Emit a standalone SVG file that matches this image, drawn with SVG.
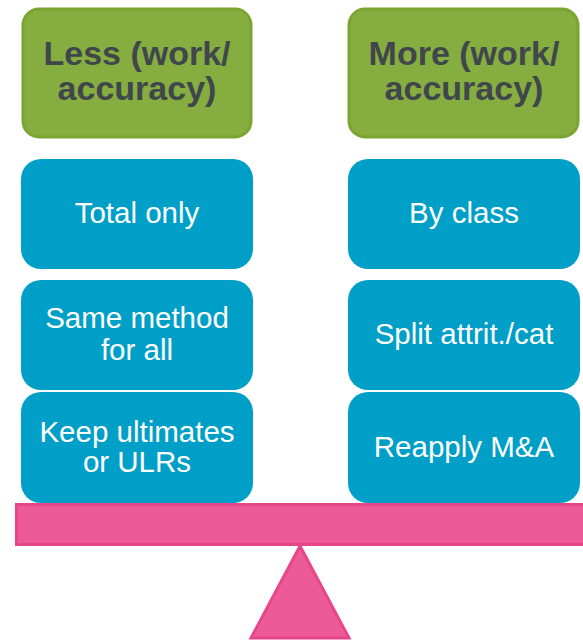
<svg xmlns="http://www.w3.org/2000/svg" width="583" height="640" viewBox="0 0 583 640">
<style>
.hdr rect{fill:#85AD3F;stroke:#79A530;stroke-width:3}
.hdr text{font-family:"Liberation Sans",Arial,sans-serif;font-weight:bold;font-size:34px;fill:#41464D;text-anchor:middle}
.itm rect{fill:#009FC8}
.itm text{font-family:"Liberation Sans",Arial,sans-serif;font-size:29.5px;fill:#FFFFFF;text-anchor:middle}
.pink{fill:#EC5B96;stroke:#E7478A;stroke-width:3}
</style>
<rect width="583" height="640" fill="#FFFFFF"/>
<g id="less" class="hdr"><rect x="23" y="9" width="228" height="128" rx="16"/><text x="137" y="65">Less (work/</text><text x="137" y="100">accuracy)</text></g>
<g id="more" class="hdr"><rect x="349" y="9" width="229" height="128" rx="16"/><text x="464" y="65">More (work/</text><text x="464" y="100">accuracy)</text></g>
<g id="total" class="itm"><rect x="21" y="159" width="232" height="110" rx="20"/><text x="137" y="223">Total only</text></g>
<g id="same" class="itm"><rect x="21" y="280" width="232" height="110" rx="20"/><text x="137" y="328">Same method</text><text x="137" y="360">for all</text></g>
<g id="keep" class="itm"><rect x="21" y="392" width="232" height="111" rx="20"/><text x="137" y="442">Keep ultimates</text><text x="137" y="472">or ULRs</text></g>
<g id="byclass" class="itm"><rect x="348" y="159" width="232" height="110" rx="20"/><text x="464" y="223">By class</text></g>
<g id="split" class="itm"><rect x="348" y="280" width="232" height="110" rx="20"/><text x="464" y="344">Split attrit./cat</text></g>
<g id="reapply" class="itm"><rect x="348" y="392" width="232" height="111" rx="20"/><text x="464" y="457">Reapply M&amp;A</text></g>
<g id="scale">
<rect class="pink" x="16.5" y="504.5" width="570" height="40"/>
<polygon class="pink" points="300,546 349,638 251,638"/>
</g>
</svg>
